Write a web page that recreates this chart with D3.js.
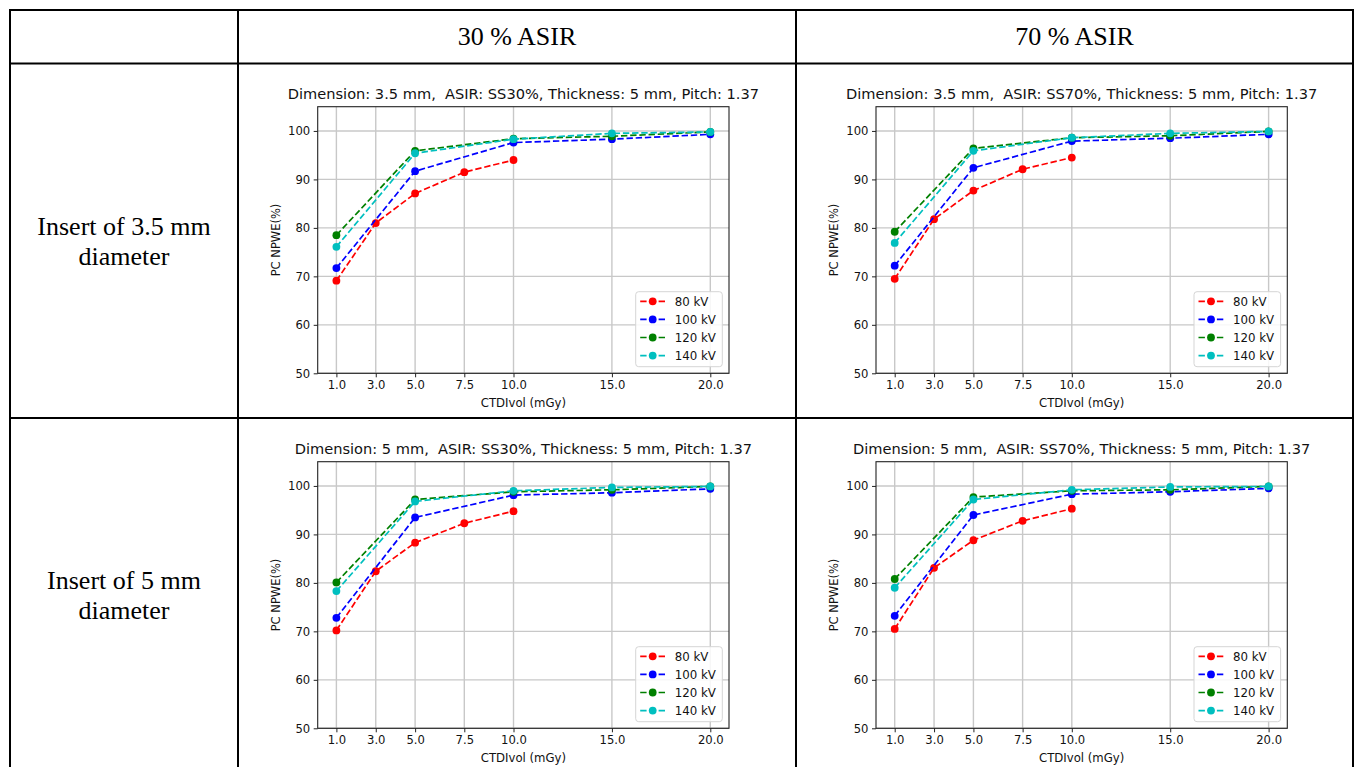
<!DOCTYPE html>
<html>
<head>
<meta charset="utf-8">
<title>PC NPWE vs CTDIvol</title>
<script src="https://cdn.jsdelivr.net/npm/d3@7"></script>
<style>
  body { margin: 0; background: #fff; }
  svg { display: block; }
  .tick text { font-family: "DejaVu Sans", sans-serif; }
  text.ptitle { white-space: pre; }
</style>
</head>
<body>
<script>
// ---- data ----
var colHeaders = ["30 % ASIR", "70 % ASIR"];
var rowHeaders = [["Insert of 3.5 mm", "diameter"], ["Insert of 5 mm", "diameter"]];
var panelTitles = [
  "Dimension: 3.5 mm,  ASIR: SS30%, Thickness: 5 mm, Pitch: 1.37",
  "Dimension: 3.5 mm,  ASIR: SS70%, Thickness: 5 mm, Pitch: 1.37",
  "Dimension: 5 mm,  ASIR: SS30%, Thickness: 5 mm, Pitch: 1.37",
  "Dimension: 5 mm,  ASIR: SS70%, Thickness: 5 mm, Pitch: 1.37"
];
var xTicks = [1.0, 3.0, 5.0, 7.5, 10.0, 15.0, 20.0];
var yTicks = [50, 60, 70, 80, 90, 100];
var seriesNames = ["80 kV", "100 kV", "120 kV", "140 kV"];
var seriesColors = ["#ff0000", "#0000ff", "#008000", "#00bfbf"];
var dose80 = [1.0, 3.0, 5.0, 7.5, 10.0];
var doseHigh = [1.0, 5.0, 10.0, 15.0, 20.0];

// panel 1: 3.5 mm, SS30%
var p1_80 = [69.1, 81.0, 87.1, 91.5, 94.0];
var p1_100 = [71.7, 91.7, 97.6, 98.3, 99.3];
var p1_120 = [78.5, 95.9, 98.4, 98.9, 99.8];
var p1_140 = [76.1, 95.4, 98.3, 99.5, 99.8];
// panel 2: 3.5 mm, SS70%
var p2_80 = [69.5, 81.8, 87.7, 92.1, 94.5];
var p2_100 = [72.2, 92.4, 97.9, 98.5, 99.3];
var p2_120 = [79.2, 96.4, 98.6, 99.0, 99.9];
var p2_140 = [76.9, 95.9, 98.6, 99.5, 99.9];
// panel 3: 5 mm, SS30%
var p3_80 = [70.2, 82.4, 88.3, 92.3, 94.8];
var p3_100 = [72.8, 93.5, 98.1, 98.6, 99.4];
var p3_120 = [80.1, 97.2, 98.8, 99.2, 99.9];
var p3_140 = [78.3, 96.8, 99.0, 99.7, 99.9];
// panel 4: 5 mm, SS70%
var p4_80 = [70.5, 83.1, 88.8, 92.8, 95.3];
var p4_100 = [73.2, 94.0, 98.3, 98.8, 99.5];
var p4_120 = [80.8, 97.7, 99.0, 99.2, 99.9];
var p4_140 = [79.0, 97.2, 99.2, 99.8, 99.9];

var panelValues = [
  [p1_80, p1_100, p1_120, p1_140],
  [p2_80, p2_100, p2_120, p2_140],
  [p3_80, p3_100, p3_120, p3_140],
  [p4_80, p4_100, p4_120, p4_140]
];

// ---- layout ----
var W = 1357, H = 767;
var svg = d3.select("body").append("svg")
    .attr("width", W)
    .attr("height", H);

// table grid
var tableLeft = 10, tableRight = 1353, tableTop = 10;
var colX = [238, 796];
var rowY = [63.5, 418];
var grid = svg.append("g").attr("stroke", "#000").attr("stroke-width", 2);
grid.append("line").attr("x1", tableLeft - 1).attr("x2", tableRight + 1).attr("y1", tableTop).attr("y2", tableTop);
rowY.forEach(function(y) {
  grid.append("line").attr("x1", tableLeft - 1).attr("x2", tableRight + 1).attr("y1", y).attr("y2", y);
});
[tableLeft, colX[0], colX[1], tableRight].forEach(function(x) {
  grid.append("line").attr("x1", x).attr("x2", x).attr("y1", tableTop - 1).attr("y2", H + 2);
});

// header texts
var serif = "'Liberation Serif', 'Times New Roman', serif";
svg.selectAll("text.colhead")
   .data(colHeaders)
   .enter()
   .append("text")
   .attr("class", "colhead")
   .attr("x", function(d, i) { return i === 0 ? (colX[0] + colX[1]) / 2 : (colX[1] + tableRight) / 2; })
   .attr("y", 45)
   .attr("text-anchor", "middle")
   .style("font-family", serif)
   .style("font-size", "26px")
   .text(function(d) { return d; });

rowHeaders.forEach(function(lines, r) {
  var cy = r === 0 ? 241 : 595;
  lines.forEach(function(t, k) {
    svg.append("text")
       .attr("x", 124)
       .attr("y", cy + (k - 0.5) * 30 + 9)
       .attr("text-anchor", "middle")
       .style("font-family", serif)
       .style("font-size", "26px")
       .text(t);
  });
});

// ---- panels ----
var panelBoxes = [
  {x0: 317.7, y0: 106.7},
  {x0: 876, y0: 106.7},
  {x0: 317.7, y0: 461.7},
  {x0: 876, y0: 461.7}
];
var pw = 411.3, ph = 266.6;
var sans = "'DejaVu Sans', sans-serif";

function drawPanel(p) {
  var box = panelBoxes[p];
  var g = svg.append("g").attr("transform", "translate(" + box.x0 + "," + box.y0 + ")");

  var x = d3.scaleLinear().domain([0.05, 20.95]).range([0, pw]);
  var y = d3.scaleLinear().domain([50, 105]).range([ph, 0]);

  // grid lines
  g.append("g").selectAll("line.vg")
   .data(xTicks).enter().append("line")
   .attr("x1", function(d) { return x(d); })
   .attr("x2", function(d) { return x(d); })
   .attr("y1", 0).attr("y2", ph)
   .attr("stroke", "#c8c8c8").attr("stroke-width", 1.4);
  g.append("g").selectAll("line.hg")
   .data(yTicks).enter().append("line")
   .attr("x1", 0).attr("x2", pw)
   .attr("y1", function(d) { return y(d); })
   .attr("y2", function(d) { return y(d); })
   .attr("stroke", "#c8c8c8").attr("stroke-width", 1.4);

  // series
  var line = d3.line()
      .x(function(d) { return x(d[0]); })
      .y(function(d) { return y(d[1]); });

  panelValues[p].forEach(function(vals, s) {
    var xs = s === 0 ? dose80 : doseHigh;
    var pts = vals.map(function(v, i) { return [xs[i], v]; });
    g.append("path")
     .datum(pts)
     .attr("d", line)
     .attr("fill", "none")
     .attr("stroke", seriesColors[s])
     .attr("stroke-width", 1.7)
     .attr("stroke-dasharray", "6.4,2.8");
    g.selectAll("circle.s" + s)
     .data(pts).enter().append("circle")
     .attr("cx", function(d) { return x(d[0]); })
     .attr("cy", function(d) { return y(d[1]); })
     .attr("r", 3.9)
     .attr("fill", seriesColors[s]);
  });

  // axes
  var xAxis = g.append("g")
     .attr("transform", "translate(0," + ph + ")")
     .call(d3.axisBottom(x).tickValues(xTicks).tickFormat(d3.format(".1f")).tickSize(4).tickPadding(3.5));
  var yAxis = g.append("g")
     .call(d3.axisLeft(y).tickValues(yTicks).tickFormat(d3.format("d")).tickSize(4).tickPadding(3.5));
  [xAxis, yAxis].forEach(function(a) {
    a.select(".domain").remove();
    a.selectAll(".tick line").attr("stroke", "#222").attr("stroke-width", 1);
    a.selectAll(".tick text")
     .attr("fill", "#111")
     .style("font-family", sans)
     .style("font-size", "11.6px");
  });

  // frame
  g.append("rect")
   .attr("x", 0).attr("y", 0)
   .attr("width", pw).attr("height", ph)
   .attr("fill", "none")
   .attr("stroke", "#222")
   .attr("stroke-width", 1.1);

  // title and labels
  g.append("text")
   .attr("class", "ptitle")
   .attr("x", pw / 2).attr("y", -8)
   .attr("text-anchor", "middle")
   .style("font-family", sans)
   .style("font-size", "14.6px")
   .attr("fill", "#111")
   .text(panelTitles[p]);
  g.append("text")
   .attr("x", pw / 2).attr("y", ph + 34)
   .attr("text-anchor", "middle")
   .style("font-family", sans)
   .style("font-size", "11.7px")
   .attr("fill", "#111")
   .text("CTDIvol (mGy)");
  g.append("text")
   .attr("transform", "translate(-38," + (ph / 2) + ") rotate(-90)")
   .attr("text-anchor", "middle")
   .style("font-family", sans)
   .style("font-size", "11.5px")
   .attr("fill", "#111")
   .text("PC NPWE(%)");

  // legend
  var lw = 86.6, lh = 75;
  var lg = g.append("g").attr("transform", "translate(" + (pw - 6.7 - lw) + "," + (ph - 6.6 - lh) + ")");
  lg.append("rect")
    .attr("width", lw).attr("height", lh)
    .attr("rx", 3)
    .attr("fill", "#fff").attr("fill-opacity", 0.85)
    .attr("stroke", "#d5d5d5");
  seriesNames.forEach(function(name, s) {
    var ly = 9.6 + s * 18.1;
    lg.append("line")
      .attr("x1", 4.5).attr("x2", 29.5)
      .attr("y1", ly).attr("y2", ly)
      .attr("stroke", seriesColors[s])
      .attr("stroke-width", 1.7)
      .attr("stroke-dasharray", "6.4,2.8");
    lg.append("circle")
      .attr("cx", 17).attr("cy", ly).attr("r", 3.9)
      .attr("fill", seriesColors[s]);
    lg.append("text")
      .attr("x", 39).attr("y", ly + 4.3)
      .style("font-family", sans)
      .style("font-size", "11.8px")
      .attr("fill", "#111")
      .text(name);
  });
}

for (var p = 0; p < 4; p++) drawPanel(p);
</script>
</body>
</html>
